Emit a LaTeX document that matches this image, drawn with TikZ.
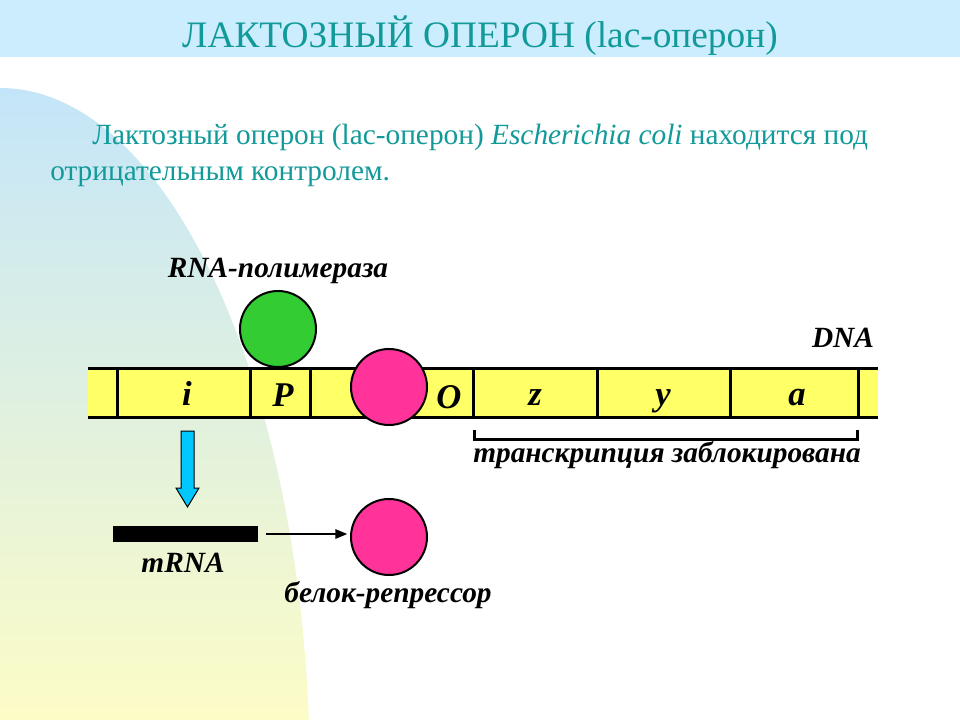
\documentclass[tikz,border=0pt]{standalone}
\usepackage{fontspec}
\setmainfont{Liberation Serif}
\usetikzlibrary{arrows.meta}
\definecolor{tealtxt}{HTML}{129A9A}
\definecolor{barblue}{HTML}{CCEDFD}
\definecolor{shapeblue}{HTML}{C4E5F9}
\definecolor{shapeyellow}{HTML}{FCFCC6}
\definecolor{dnayellow}{HTML}{FFFF66}
\definecolor{polgreen}{HTML}{33CC33}
\definecolor{reppink}{HTML}{FF3399}
\definecolor{arrowblue}{HTML}{00C8FF}
\begin{document}
\begin{tikzpicture}[x=0.75pt,y=-0.75pt,
  lbl/.style={font=\bfseries\itshape\fontsize{22}{26}\selectfont, inner sep=0pt, anchor=base},
  gene/.style={font=\bfseries\itshape\fontsize{26}{30}\selectfont, inner sep=0pt, anchor=base},
  ball/.style={circle, draw=black, line width=1.5pt, inner sep=0pt, minimum size=57pt},
  thickline/.style={line width=2.25pt, draw=black},
  bodytxt/.style={font=\fontsize{22}{26}\selectfont, text=tealtxt, inner sep=0pt, anchor=base west}]
\useasboundingbox (0,0) rectangle (960,720);
\fill[white] (0,0) rectangle (960,720);
% title bar
\fill[barblue] (0,0) rectangle (960,57);
\node[font=\fontsize{28}{32}\selectfont, text=tealtxt, inner sep=0pt, anchor=base] (title) at (480,48) {ЛАКТОЗНЫЙ ОПЕРОН (lac-оперон)};
% background shape
\begin{scope}
  \clip (0,780) ellipse [x radius=310, y radius=692];
  \shade[top color=shapeblue, bottom color=shapeyellow] (0,88) rectangle (330,720);
\end{scope}
% body text
\node[bodytxt] (l1) at (92,145) {Лактозный оперон (lac-оперон) \textit{Escherichia coli} находится под};
\node[bodytxt] (l2) at (50,181) {отрицательным контролем.};
% DNA strip
\fill[dnayellow] (88,368) rectangle (878,417);
\draw[thickline] (88,368) -- (878,368);
\draw[thickline] (88,417) -- (878,417);
\foreach \xx in {117,250,310,473,597,730,858}
  \draw[thickline] (\xx,368) -- (\xx,417);
\node[gene] (gi) at (187,405) {i};
\node[gene] (gP) at (283,406) {P};
\node[gene] (gO) at (449,408) {O};
\node[gene] (gz) at (535,405) {z};
\node[gene] (gy) at (663,405) {y};
\node[gene] (ga) at (797,405) {a};
\node[lbl] (dna) at (843,347) {DNA};
% RNA polymerase
\node[lbl] (rnapol) at (278,278) {RNA-полимераза};
\node[ball, fill=polgreen] (pol) at (278,329) {};
% repressor on operator
\node[ball, fill=reppink] (rep1) at (389,387) {};
% bracket
\draw[thickline] (474,430) -- (474,439) -- (857,439) -- (857,430);
\node[lbl] (blocked) at (667,462) {транскрипция заблокирована};
% blue block arrow
\draw[fill=arrowblue, draw=black, line width=0.75pt]
  (181,431) -- (194,431) -- (194,488) -- (199,488) -- (187.5,507) -- (176,488) -- (181,488) -- cycle;
% mRNA bar
\node[fill=black, inner sep=0pt, minimum width=108.75pt, minimum height=12pt] (bar) at (185.5,534) {};
\node[lbl] (mrna) at (183,572) {mRNA};
% repressor protein
\node[ball, fill=reppink] (rep2) at (389,537) {};
\node[lbl] (replbl) at (388,602) {белок-репрессор};
\draw[line width=1.5pt, -{Triangle[length=9pt,width=7pt]}, shorten <=6pt, shorten >=2pt]
  (bar.east) -- (bar.east -| rep2.west);
\end{tikzpicture}
\end{document}
